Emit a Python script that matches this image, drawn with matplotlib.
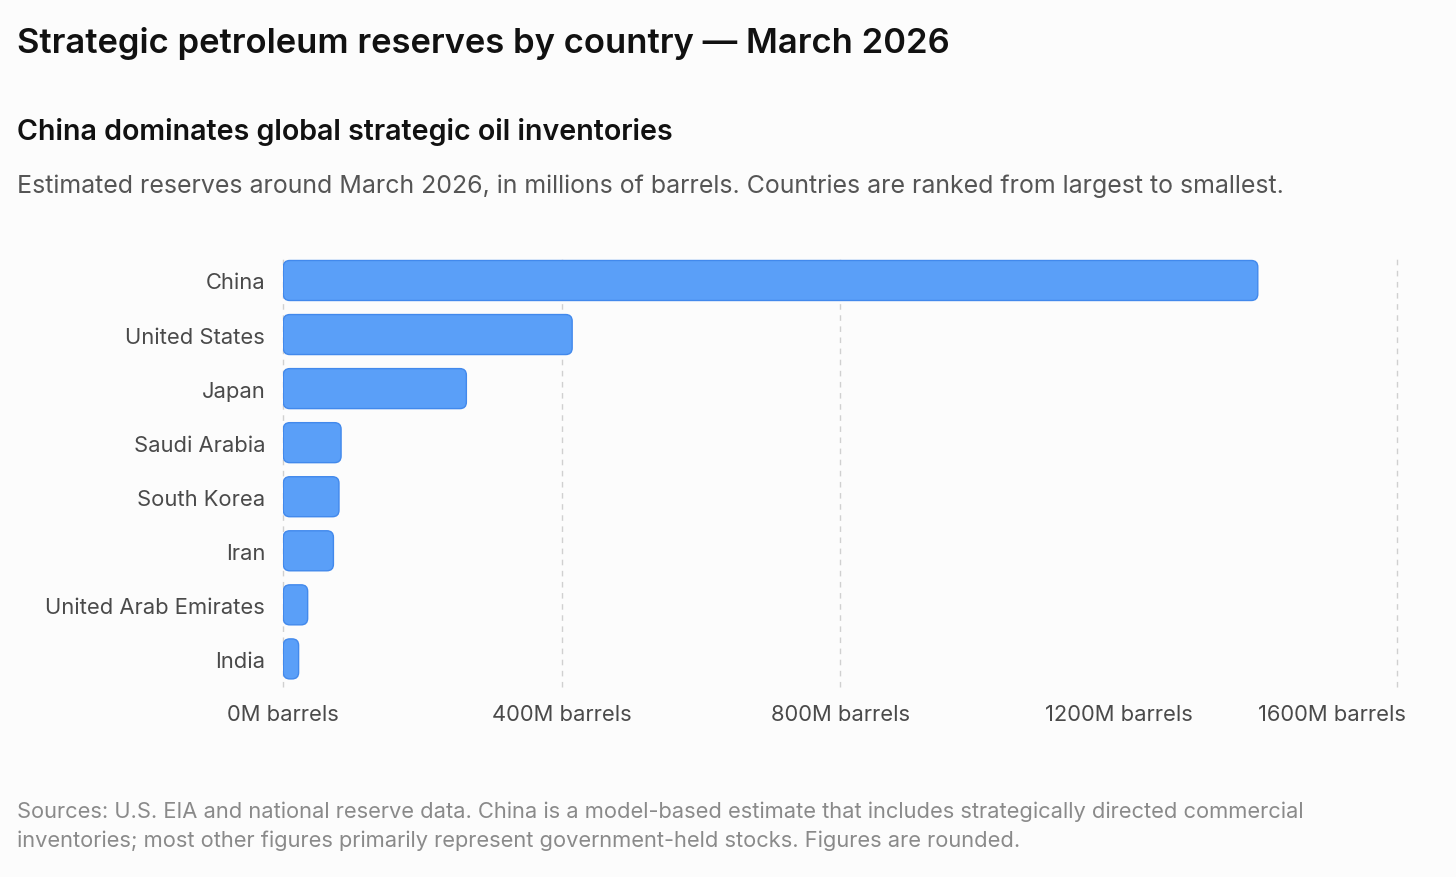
import matplotlib.pyplot as plt
from matplotlib.patches import FancyBboxPatch
from matplotlib.transforms import ScaledTranslation

plt.rcParams['font.family'] = ['Inter', 'DejaVu Sans']

countries = ['China', 'United States', 'Japan', 'Saudi Arabia', 'South Korea',
             'Iran', 'United Arab Emirates', 'India']
reserves = [1400, 415, 263, 83, 80, 72, 35, 22]  # million barrels
ticks = [0, 400, 800, 1200, 1600]
tick_labels = ['%dM barrels' % t for t in ticks]
grid_at = [0, 400, 800, 1600]

W, H = 1456, 878
fig = plt.figure(figsize=(W / 100, H / 100), dpi=100, facecolor='#fcfcfc')

# axes box in pixels
x0, x1 = 283.3, 1397
y0, y1 = 255, 688
ax = fig.add_axes([x0 / W, 1 - y1 / H, (x1 - x0) / W, (y1 - y0) / H])
ax.set_facecolor('#fcfcfc')
ax.set_xlim(0, 1600)
ax.set_ylim(7.52, -0.49)

for g in grid_at:
    ax.axvline(g, color='#d0d0d0', lw=1, ls=(0, (4, 4)), zorder=0, clip_on=False)

# rounded bars
xu = 1600 / (x1 - x0)
yu = 8.01 / (y1 - y0)
r = 6.5
bh = 0.74
for i, v in enumerate(reserves):
    p = FancyBboxPatch((0, i - bh / 2), v, bh,
                       boxstyle='round,pad=0,rounding_size=%f' % (r * xu),
                       mutation_aspect=yu / xu,
                       facecolor='#5a9ff8', edgecolor='#4289ec', lw=1, zorder=2)
    ax.add_patch(p)

ax.set_yticks(range(len(countries)))
ax.set_yticklabels(countries, fontsize=15.8, color='#4a4a4a')
ax.set_xticks(ticks)
ax.set_xticklabels(tick_labels, fontsize=15.8, color='#4a4a4a')
ax.tick_params(length=0)
ax.tick_params(axis='y', pad=13)
ax.tick_params(axis='x', pad=12.5)
last = ax.get_xticklabels()[-1]
last.set_horizontalalignment('right')
last.set_transform(last.get_transform() + ScaledTranslation(0.09, 0, fig.dpi_scale_trans))
for s in ax.spines.values():
    s.set_visible(False)

fig.text(17 / W, 1 - 52.7 / H, 'Strategic petroleum reserves by country — March 2026',
         fontsize=24.9, fontweight='semibold', color='#111111', va='baseline')
fig.text(17 / W, 1 - 140 / H, 'China dominates global strategic oil inventories',
         fontsize=20.6, fontweight='semibold', color='#111111', va='baseline')
fig.text(17 / W, 1 - 193.3 / H,
         'Estimated reserves around March 2026, in millions of barrels. '
         'Countries are ranked from largest to smallest.',
         fontsize=17.95, color='#555555', va='baseline')
fig.text(17 / W, 1 - 818 / H,
         'Sources: U.S. EIA and national reserve data. China is a model-based estimate '
         'that includes strategically directed commercial',
         fontsize=15.75, color='#8a8a8a', va='baseline')
fig.text(17 / W, 1 - 846.7 / H,
         'inventories; most other figures primarily represent government-held stocks. '
         'Figures are rounded.',
         fontsize=15.75, color='#8a8a8a', va='baseline')

fig.savefig('out.png', dpi=100, facecolor=fig.get_facecolor())
